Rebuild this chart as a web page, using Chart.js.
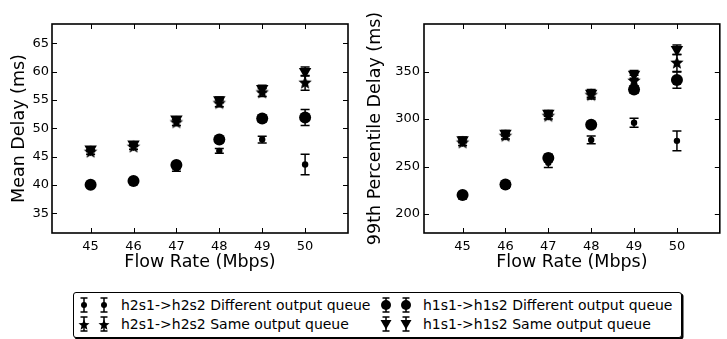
<!DOCTYPE html>
<html>
<head>
<meta charset="utf-8">
<script src="https://cdn.jsdelivr.net/npm/chart.js@4.4.1/dist/chart.umd.min.js"></script>
<style>
  html, body { margin:0; padding:0; background:#fff; }
  body { width:727px; height:339px; overflow:hidden; position:relative; font-family:"DejaVu Sans", sans-serif; }
  #c1 { position:absolute; left:0; top:0; }
  #c2 { position:absolute; left:360px; top:0; }
  #legend { position:absolute; left:73px; top:292px; width:607px; height:44px; border:1.2px solid #000; border-radius:3px; box-shadow:1.5px 1.5px 0 #000; background:#fff; }
  .item { position:absolute; height:20px; }
  .item svg { position:absolute; left:0; top:0; }
  .item span { position:absolute; top:0; line-height:20px; font-size:14px; color:#000; white-space:nowrap; font-family:"DejaVu Sans", sans-serif; }
</style>
</head>
<body>
<canvas id="c1" width="360" height="280"></canvas>
<canvas id="c2" width="367" height="280"></canvas>
<div id="legend"></div>
<script>
// ---------------- data ----------------
const flowRates = [45, 46, 47, 48, 49, 50];
const xTicks = [45, 46, 47, 48, 49, 50];
const meanTicks = [35, 40, 45, 50, 55, 60, 65];
const p99Ticks = [200, 250, 300, 350];

const seriesNames = [
  'h2s1->h2s2 Different output queue',
  'h2s1->h2s2 Same output queue',
  'h1s1->h1s2 Different output queue',
  'h1s1->h1s2 Same output queue'
];

// Mean delay (ms)
const meanH2Diff    = [40.0, 40.6, 42.9, 46.0, 48.0, 43.6];
const meanH2DiffErr = [0.3, 0.3, 0.5, 0.4, 0.6, 1.8];
const meanH2Same    = [45.8, 46.7, 51.0, 54.4, 56.3, 58.0];
const meanH2SameErr = [0.4, 0.4, 0.5, 0.6, 0.7, 1.3];
const meanH1Diff    = [40.0, 40.7, 43.5, 48.0, 51.7, 51.9];
const meanH1DiffErr = [0.3, 0.3, 0.6, 0.5, 0.6, 1.4];
const meanH1Same    = [46.3, 47.2, 51.6, 55.0, 57.0, 60.0];
const meanH1SameErr = [0.4, 0.4, 0.4, 0.5, 0.6, 0.8];

// 99th percentile delay (ms)
const p99H2Diff    = [219, 230, 254, 278, 296, 277];
const p99H2DiffErr = [3, 3, 5, 4, 4.7, 10.5];
const p99H2Same    = [275, 282, 303, 325, 340, 359];
const p99H2SameErr = [3, 3, 3, 4, 6, 9];
const p99H1Diff    = [220, 231, 259, 294, 331, 341];
const p99H1DiffErr = [3, 3, 4, 3, 4, 8.5];
const p99H1Same    = [278, 285, 306, 327, 347, 373];
const p99H1SameErr = [3, 3, 3, 4, 4, 5];

// ---------------- helpers ----------------
function makeStar(r) {
  const s = Math.ceil(r * 2 + 2);
  const c = document.createElement('canvas');
  c.width = s; c.height = s;
  const g = c.getContext('2d');
  g.translate(s / 2, s / 2);
  g.beginPath();
  for (let i = 0; i < 10; i++) {
    const rr = (i % 2) ? r * 0.45 : r;
    const a = -Math.PI / 2 + i * Math.PI / 5;
    g.lineTo(rr * Math.cos(a), rr * Math.sin(a));
  }
  g.closePath();
  g.fillStyle = '#000';
  g.fill();
  return c;
}
const starImg = makeStar(7);

const markerStyles = [
  { pointStyle: 'circle', pointRadius: 3.2, rotation: 0 },
  { pointStyle: starImg, pointRadius: 7, rotation: 0 },
  { pointStyle: 'circle', pointRadius: 6.0, rotation: 0 },
  { pointStyle: 'triangle', pointRadius: 7.2, rotation: 180 }
];

const errorBarPlugin = {
  id: 'errorBars',
  beforeDatasetDraw(chart, args) {
    const ds = chart.data.datasets[args.index];
    if (!ds.errors) return;
    const xs = chart.scales.x, ys = chart.scales.y;
    const ctx = chart.ctx;
    const ca = chart.chartArea;
    ctx.save();
    ctx.beginPath();
    ctx.rect(ca.left, ca.top, ca.right - ca.left, ca.bottom - ca.top);
    ctx.clip();
    ctx.strokeStyle = '#000';
    ctx.lineWidth = 1.5;
    ds.data.forEach((p, i) => {
      const e = ds.errors[i];
      const x = xs.getPixelForValue(p.x);
      const y1 = ys.getPixelForValue(p.y - e);
      const y2 = ys.getPixelForValue(p.y + e);
      ctx.beginPath();
      ctx.moveTo(x, y1); ctx.lineTo(x, y2);
      ctx.moveTo(x - 4.5, y1); ctx.lineTo(x + 4.5, y1);
      ctx.moveTo(x - 4.5, y2); ctx.lineTo(x + 4.5, y2);
      ctx.stroke();
    });
    ctx.restore();
  }
};

const framePlugin = {
  id: 'frame',
  afterDatasetsDraw(chart) {
    const ctx = chart.ctx, ca = chart.chartArea;
    const xs = chart.scales.x, ys = chart.scales.y;
    ctx.save();
    ctx.strokeStyle = '#000';
    ctx.lineWidth = 1;
    const tl = 5;
    xs.ticks.forEach(t => {
      const x = Math.round(xs.getPixelForValue(t.value)) + 0.5;
      ctx.beginPath();
      ctx.moveTo(x, ca.bottom); ctx.lineTo(x, ca.bottom - tl);
      ctx.moveTo(x, ca.top); ctx.lineTo(x, ca.top + tl);
      ctx.stroke();
    });
    ys.ticks.forEach(t => {
      const y = Math.round(ys.getPixelForValue(t.value)) + 0.5;
      ctx.beginPath();
      ctx.moveTo(ca.left, y); ctx.lineTo(ca.left + tl, y);
      ctx.moveTo(ca.right, y); ctx.lineTo(ca.right - tl, y);
      ctx.stroke();
    });
    ctx.lineWidth = 1.6;
    ctx.strokeRect(ca.left, ca.top, ca.right - ca.left, ca.bottom - ca.top);
    ctx.restore();
  }
};

function makeChart(id, cfg) {
  const series = [
    [cfg.values[0], cfg.errors[0]],
    [cfg.values[1], cfg.errors[1]],
    [cfg.values[2], cfg.errors[2]],
    [cfg.values[3], cfg.errors[3]]
  ];
  const datasets = series.map((s, k) => ({
    label: seriesNames[k],
    data: flowRates.map((x, i) => ({ x: x, y: s[0][i] })),
    errors: s[1],
    showLine: false,
    backgroundColor: '#000',
    borderColor: '#000',
    borderWidth: 0,
    pointStyle: markerStyles[k].pointStyle,
    pointRadius: markerStyles[k].pointRadius,
    pointRotation: markerStyles[k].rotation,
    pointHoverRadius: markerStyles[k].pointRadius,
    order: 10 - k
  }));
  const font = { family: 'DejaVu Sans', size: 13 };
  return new Chart(document.getElementById(id), {
    type: 'scatter',
    data: { datasets },
    options: {
      responsive: false,
      animation: false,
      devicePixelRatio: 1,
      layout: { padding: { top: 24, right: cfg.rightPad, left: 0, bottom: 0 } },
      plugins: { legend: { display: false }, tooltip: { enabled: false } },
      scales: {
        x: {
          type: 'linear', min: 44.1, max: 51.0,
          afterBuildTicks: s => { s.ticks = xTicks.map(v => ({ value: v })); },
          afterFit: s => { s.height = 47; },
          grid: { display: false, drawTicks: false },
          border: { display: false },
          ticks: { color: '#000', font, padding: 6, maxRotation: 0 },
          title: { display: true, text: 'Flow Rate (Mbps)', color: '#000',
                   font: { family: 'DejaVu Sans', size: 17.5 }, padding: { top: 0, bottom: 7 } }
        },
        y: {
          type: 'linear', min: cfg.yMin, max: cfg.yMax,
          afterBuildTicks: s => { s.ticks = cfg.yTicks.map(v => ({ value: v })); },
          afterFit: s => { s.width = cfg.yWidth; },
          grid: { display: false, drawTicks: false },
          border: { display: false },
          ticks: { color: '#000', font, padding: cfg.tickPad },
          title: { display: true, text: cfg.yTitle, color: '#000',
                   font: { family: 'DejaVu Sans', size: 17.5 }, padding: { top: cfg.titlePad, bottom: 0 } }
        }
      }
    },
    plugins: [errorBarPlugin, framePlugin]
  });
}

makeChart('c1', {
  values: [meanH2Diff, meanH2Same, meanH1Diff, meanH1Same],
  errors: [meanH2DiffErr, meanH2SameErr, meanH1DiffErr, meanH1SameErr],
  yMin: 31.5, yMax: 68.4, yTicks: meanTicks, yTitle: 'Mean Delay (ms)',
  yWidth: 52, rightPad: 12, tickPad: 3, titlePad: 8.5
});
makeChart('c2', {
  values: [p99H2Diff, p99H2Same, p99H1Diff, p99H1Same],
  errors: [p99H2DiffErr, p99H2SameErr, p99H1DiffErr, p99H1SameErr],
  yMin: 180, yMax: 400, yTicks: p99Ticks, yTitle: '99th Percentile Delay (ms)',
  yWidth: 64, rightPad: 5, tickPad: 4, titlePad: 4.5
});

// ---------------- legend (HTML, real text) ----------------
function markerSvg(k, cx, cy) {
  let shape = '';
  if (k === 0) shape = `<circle cx="${cx}" cy="${cy}" r="3" fill="#000"/>`;
  else if (k === 2) shape = `<circle cx="${cx}" cy="${cy}" r="5" fill="#000"/>`;
  else if (k === 3) shape = `<polygon points="${cx-5.5},${cy-4} ${cx+5.5},${cy-4} ${cx},${cy+5.5}" fill="#000"/>`;
  else {
    let pts = [];
    for (let i = 0; i < 10; i++) {
      const rr = (i % 2) ? 5.8 * 0.45 : 5.8;
      const a = -Math.PI / 2 + i * Math.PI / 5;
      pts.push((cx + rr * Math.cos(a)).toFixed(2) + ',' + (cy + 1 + rr * Math.sin(a)).toFixed(2));
    }
    shape = `<polygon points="${pts.join(' ')}" fill="#000"/>`;
  }
  const bar = `<path d="M${cx} ${cy-7}V${cy+7}M${cx-3.5} ${cy-7}H${cx+3.5}M${cx-3.5} ${cy+7}H${cx+3.5}" stroke="#000" stroke-width="1.5" fill="none"/>`;
  return bar + shape;
}
const legendPos = [
  { left: 0,   top: 2 },
  { left: 0,   top: 21 },
  { left: 302, top: 2 },
  { left: 302, top: 21 }
];
const legend = document.getElementById('legend');
seriesNames.forEach((name, k) => {
  const d = document.createElement('div');
  d.className = 'item';
  d.style.left = legendPos[k].left + 'px';
  d.style.top = legendPos[k].top + 'px';
  d.style.width = '300px';
  const svg = `<svg width="44" height="20" viewBox="0 0 44 20">${markerSvg(k, 10, 10)}${markerSvg(k, 30, 10)}</svg>`;
  d.innerHTML = svg;
  const sp = document.createElement('span');
  sp.style.left = '47px';
  sp.textContent = name;
  d.appendChild(sp);
  legend.appendChild(d);
});
</script>
</body>
</html>
